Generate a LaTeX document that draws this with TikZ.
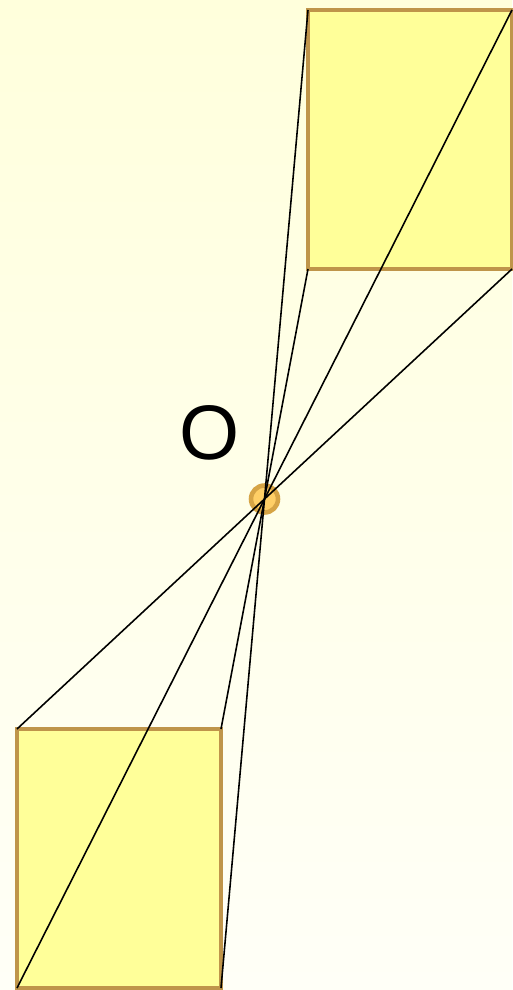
\documentclass[tikz,border=0pt]{standalone}
\usepackage{fontspec}
\setmainfont{Liberation Sans}
\usetikzlibrary{positioning}
\definecolor{bgTop}{HTML}{FFFFDC}
\definecolor{bgBot}{HTML}{FFFFF7}
\definecolor{boxY}{HTML}{FFFF99}
\definecolor{boxE}{HTML}{BF954A}
\definecolor{ptF}{HTML}{FFCF66}
\definecolor{ptE}{HTML}{D6A445}

\begin{document}
\begin{tikzpicture}[x=0.02cm,y=-0.02cm]
  \tikzset{
    panel/.style={fill=boxY,draw=boxE,line width=2.6pt},
    ray/.style={black,line width=0.9pt}
  }
  % background
  \shade[top color=bgTop,bottom color=bgBot] (0,0) rectangle (512,990);
  \useasboundingbox (0,0) rectangle (512,990);
  % centre of the point reflection
  \coordinate (O) at (264.5,499);
  % corners of the upper panel
  \coordinate (a1) at (308,10);
  \coordinate (a2) at (512,10);
  \coordinate (a3) at (308,269);
  \coordinate (a4) at (512,269);
  % corners of the lower panel
  \coordinate (b1) at (221,988);
  \coordinate (b2) at (17,988);
  \coordinate (b3) at (221,729);
  \coordinate (b4) at (17,729);
  \draw[panel] (a1) rectangle (a4);
  \draw[panel] (b4) rectangle (b1);
  \fill[ptF,draw=ptE,line width=2.6pt] (O) circle (13.5);
  \foreach \i in {1,2,3,4}{
    \draw[ray] (a\i) -- (b\i);
  }
  \node[font=\fontsize{44}{50}\selectfont] (lbl) at (210,433) {O};
\end{tikzpicture}
\end{document}
